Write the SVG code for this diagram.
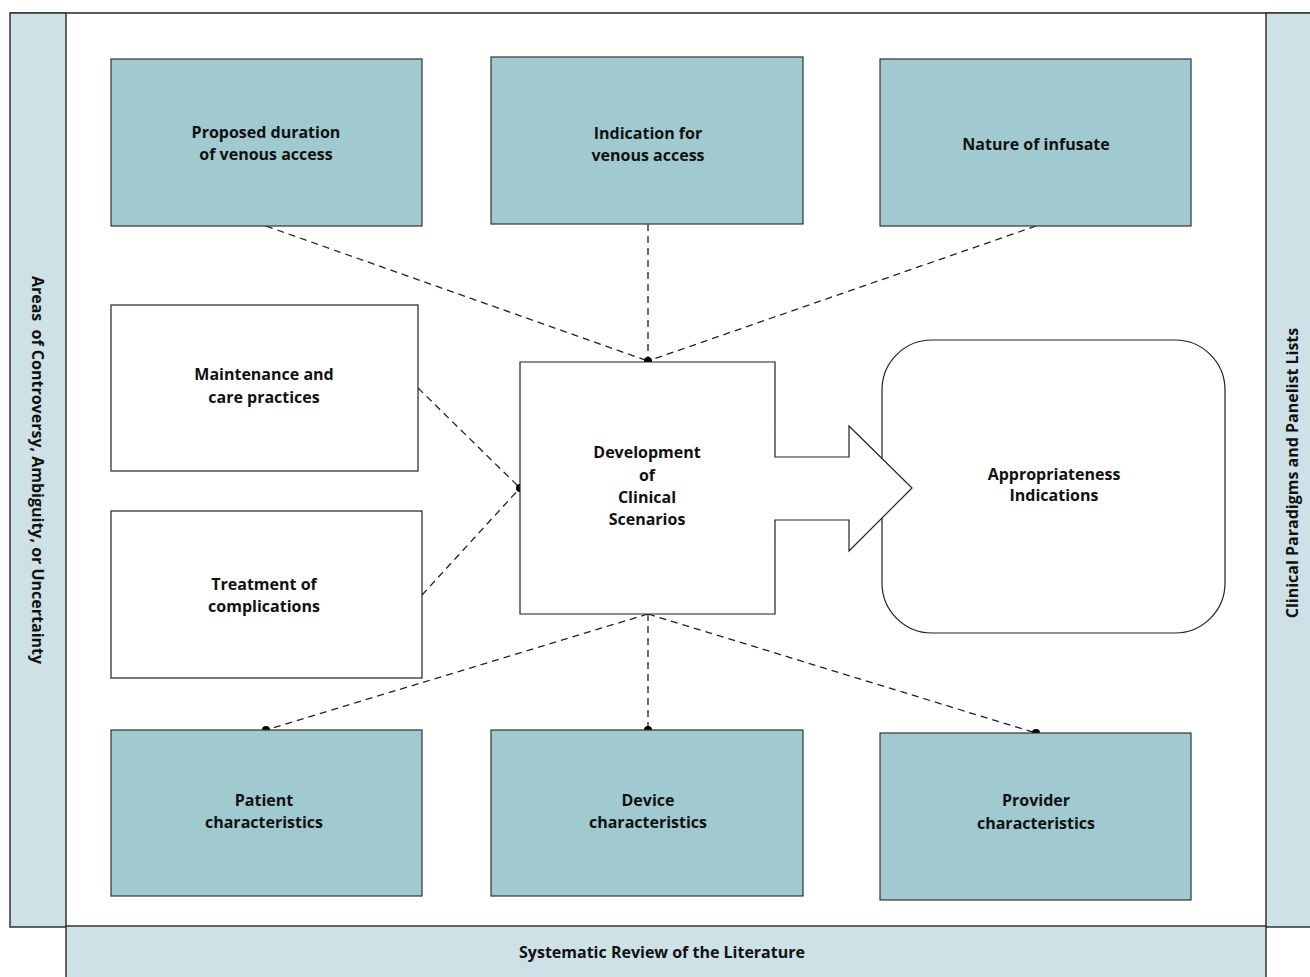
<svg xmlns="http://www.w3.org/2000/svg" width="1310" height="977" viewBox="0 0 1310 977">
<style>
.strip{fill:#cde1e6;stroke:#333;stroke-width:1.5}
.node{fill:#a0cad0;stroke:#333;stroke-width:1.2}
.wnode{fill:#fff;stroke:#222;stroke-width:1.2}
.dash{stroke:#222;stroke-width:1.3;stroke-dasharray:7,5;fill:none}
text{font-family:"Open Sans","DejaVu Sans",sans-serif;font-weight:700;font-size:16px;fill:#111;text-anchor:middle}
</style>
<rect width="1310" height="977" fill="#fff"/>
<g id="frame">
<line x1="10" y1="13" x2="1310" y2="13" stroke="#222" stroke-width="1.5"/>
<rect class="strip" x="10" y="13" width="56" height="914"/>
<rect class="strip" x="1266" y="13" width="50" height="914"/>
<rect class="strip" x="66" y="926" width="1200" height="60"/>
</g>
<g id="label-left"><text transform="translate(32,470) rotate(90)" xml:space="preserve">Areas  of Controversy, Ambiguity, or Uncertainty</text></g>
<g id="label-right"><text transform="translate(1298,473) rotate(-90)">Clinical Paradigms and Panelist Lists</text></g>
<g id="label-bottom"><text x="662" y="958">Systematic Review of the Literature</text></g>
<g id="connectors">
<line class="dash" x1="266" y1="226" x2="648" y2="361"/>
<line class="dash" x1="648" y1="224" x2="648" y2="361"/>
<line class="dash" x1="1036" y1="226" x2="648" y2="361"/>
<line class="dash" x1="418" y1="388" x2="520" y2="488"/>
<line class="dash" x1="422" y1="595" x2="520" y2="488"/>
<line class="dash" x1="648" y1="614" x2="266" y2="730"/>
<line class="dash" x1="648" y1="614" x2="648" y2="730"/>
<line class="dash" x1="648" y1="614" x2="1036" y2="733"/>
<circle cx="648" cy="361" r="4" fill="#000"/>
<circle cx="520" cy="488" r="4" fill="#000"/>
<circle cx="266" cy="730" r="4" fill="#000"/>
<circle cx="648" cy="730" r="4" fill="#000"/>
<circle cx="1036" cy="733" r="4" fill="#000"/>
</g>
<g id="n-duration"><rect class="node" x="111" y="59" width="311" height="167"/><text x="266" y="138">Proposed duration</text><text x="266" y="160">of venous access</text></g>
<g id="n-indication"><rect class="node" x="491" y="57" width="312" height="167"/><text x="648" y="139">Indication for</text><text x="648" y="161">venous access</text></g>
<g id="n-infusate"><rect class="node" x="880" y="59" width="311" height="167"/><text x="1036" y="150">Nature of infusate</text></g>
<g id="n-maintenance"><rect class="wnode" x="111" y="305" width="307" height="166"/><text x="264" y="380">Maintenance and</text><text x="264" y="403">care practices</text></g>
<g id="n-treatment"><rect class="wnode" x="111" y="511" width="311" height="167"/><text x="264" y="590">Treatment of</text><text x="264" y="612">complications</text></g>
<g id="n-appropriateness"><rect class="wnode" x="882" y="340" width="343" height="293" rx="50" ry="50"/><text x="1054" y="480">Appropriateness</text><text x="1054" y="501">Indications</text></g>
<g id="n-development"><path class="wnode" d="M520,362 H775 V457 H849 V426 L912,488 L849,551 V520 H775 V614 H520 Z"/><text x="647" y="458">Development</text><text x="647" y="481">of</text><text x="647" y="503">Clinical</text><text x="647" y="525">Scenarios</text></g>
<g id="n-patient"><rect class="node" x="111" y="730" width="311" height="166"/><text x="264" y="806">Patient</text><text x="264" y="828">characteristics</text></g>
<g id="n-device"><rect class="node" x="491" y="730" width="312" height="166"/><text x="648" y="806">Device</text><text x="648" y="828">characteristics</text></g>
<g id="n-provider"><rect class="node" x="880" y="733" width="311" height="167"/><text x="1036" y="806">Provider</text><text x="1036" y="829">characteristics</text></g>
</svg>
